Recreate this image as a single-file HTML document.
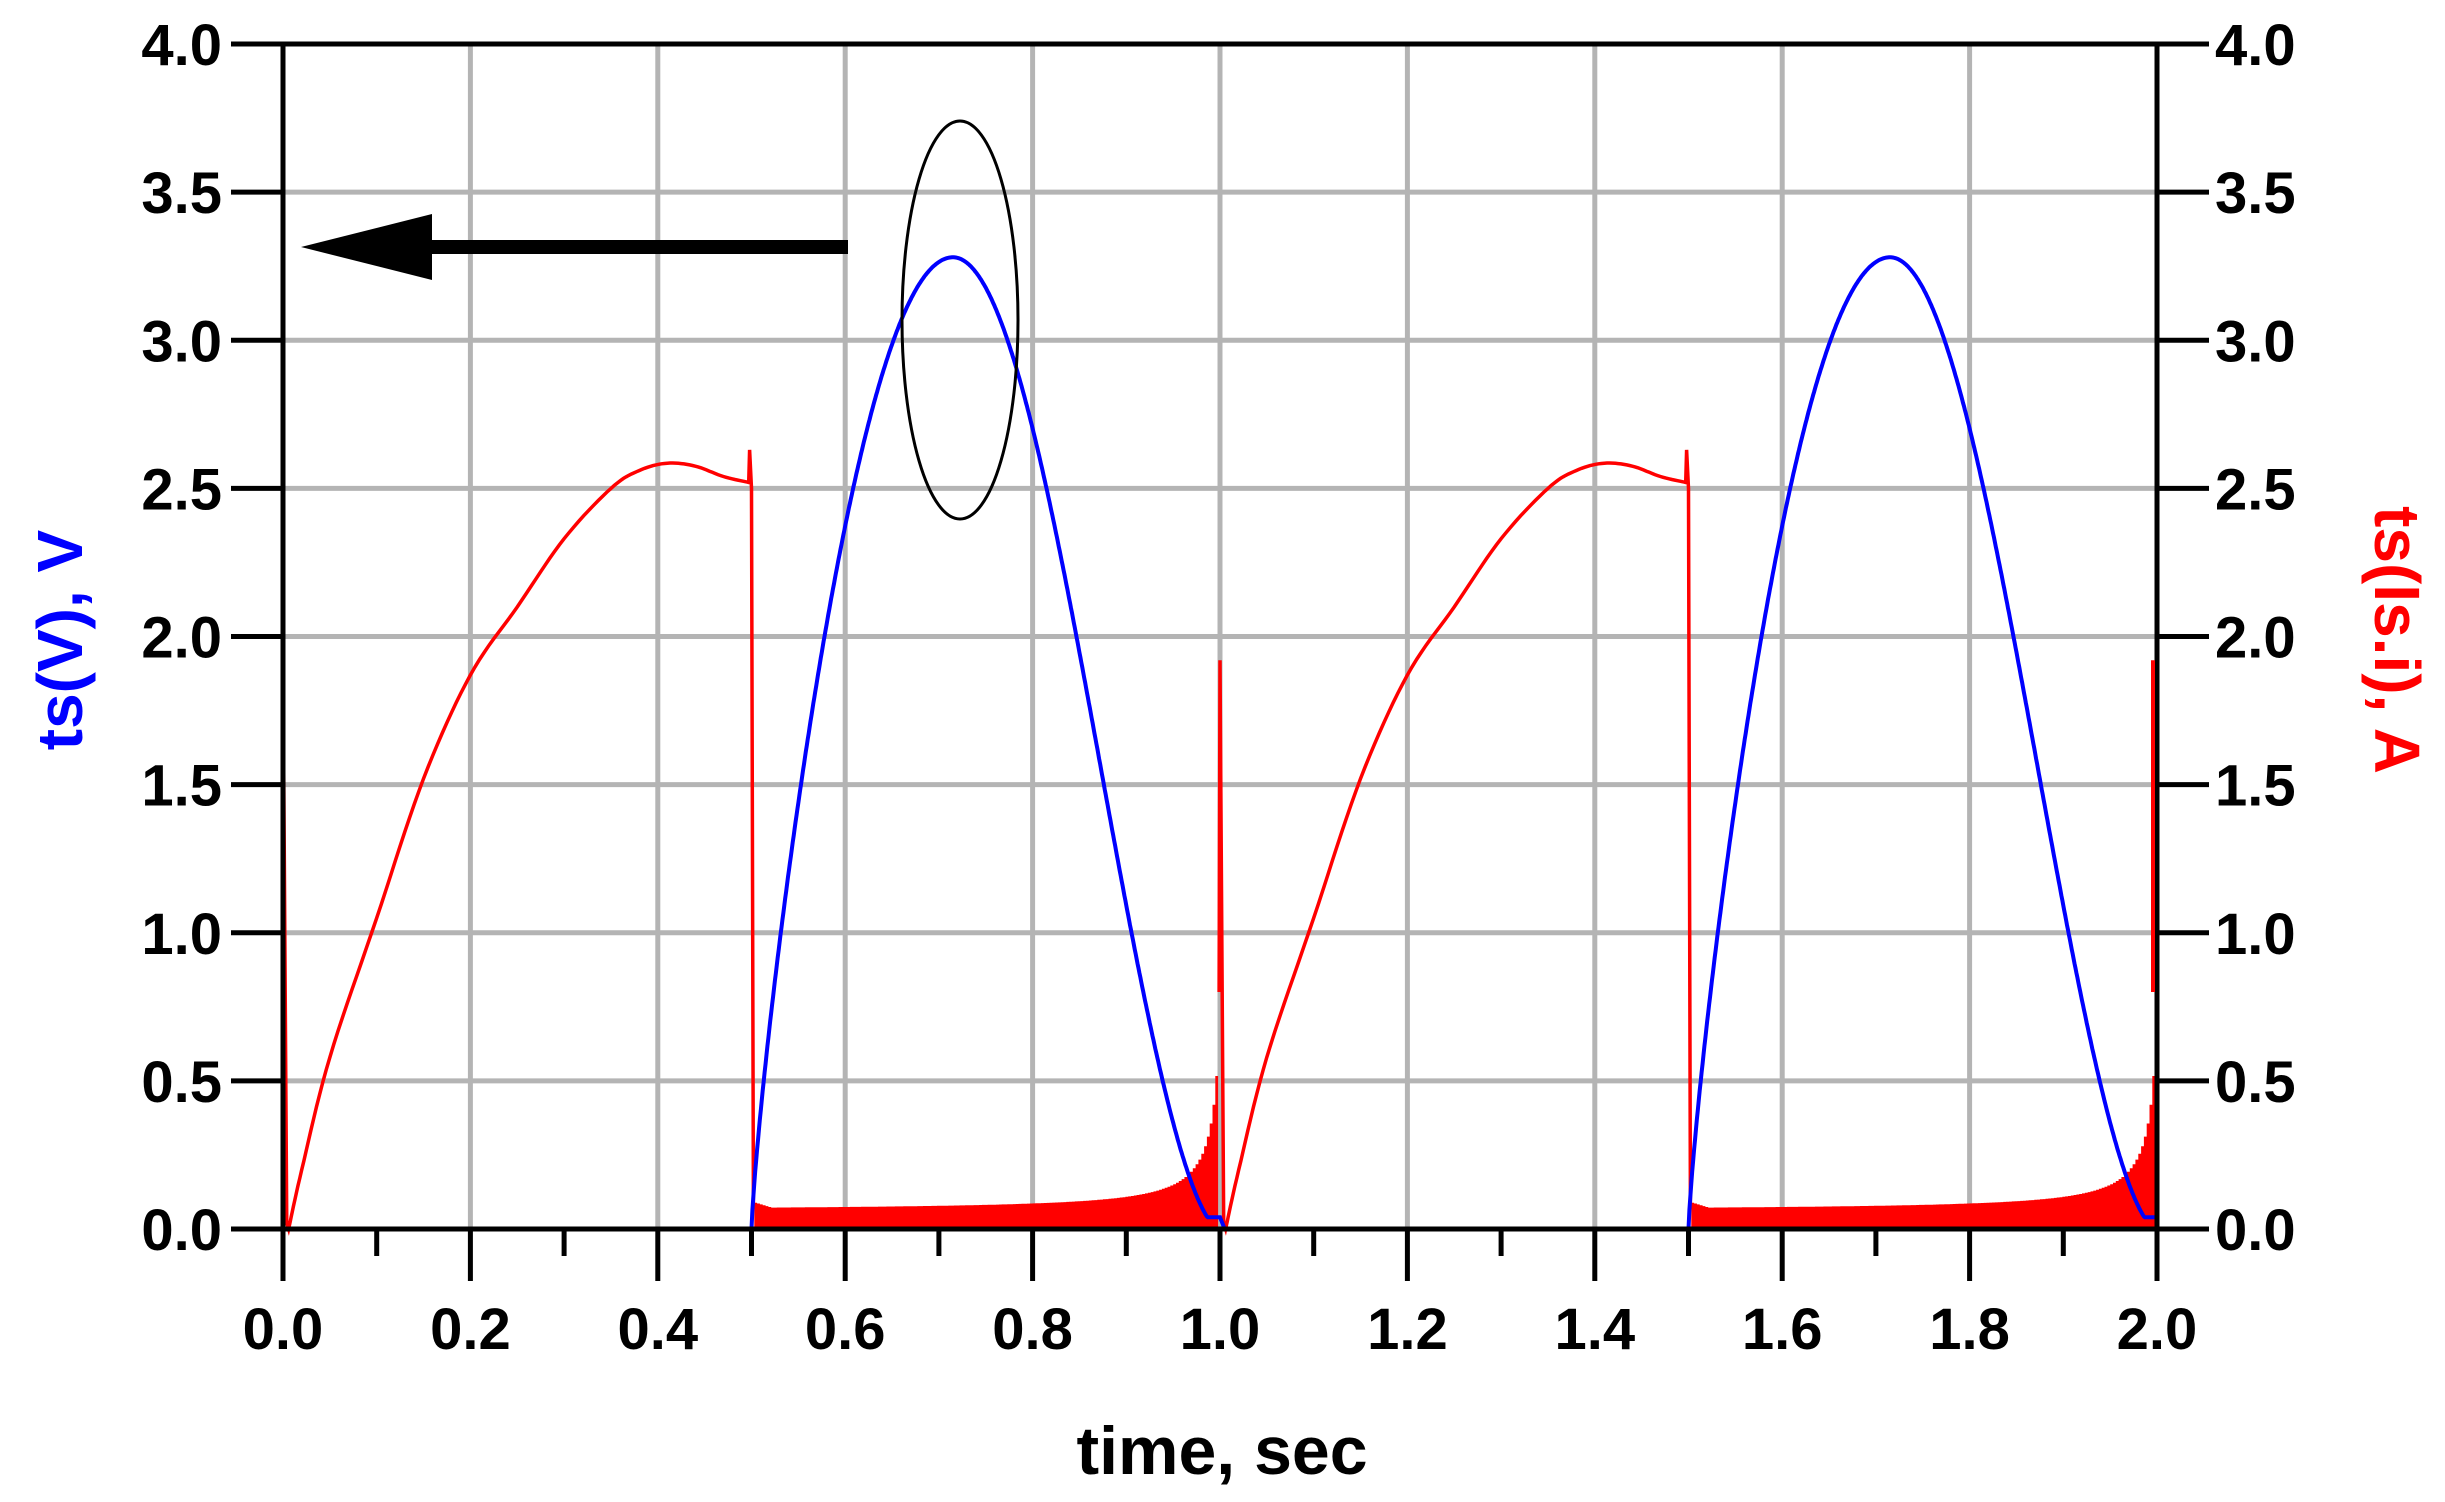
<!DOCTYPE html>
<html><head><meta charset="utf-8"><style>
body{margin:0;background:#fff}
svg{display:block}
text{font-family:"Liberation Sans",Arial,sans-serif;font-weight:bold}
</style></head><body>
<svg id="s" width="2445" height="1502" viewBox="0 0 2445 1502" xmlns="http://www.w3.org/2000/svg">
<g id="grid" stroke="#b4b4b4" stroke-width="5"></g>
<path id="redfill" fill="#ff0000" stroke="none"/>
<path id="red" fill="none" stroke="#ff0000" stroke-width="3.5"/>
<path id="blue" fill="none" stroke="#0000ff" stroke-width="4"/>
<g id="axes" stroke="#000" stroke-width="5"></g>
<path id="spike" fill="none" stroke="#ff0000" stroke-width="4"/>
<g id="labels" font-size="58" fill="#000"></g>
<path d="M848,247 L432,247" stroke="#000" stroke-width="14"/>
<path d="M301,247 L432,214 L432,280 Z" fill="#000"/>
<ellipse cx="960" cy="320" rx="58" ry="199" fill="none" stroke="#000" stroke-width="3"/>
<text x="1222" y="1474" font-size="68" text-anchor="middle">time, sec</text>
<text transform="translate(82,640) rotate(-90)" font-size="64" text-anchor="middle" fill="#0000ff">ts(V), V</text>
<text transform="translate(2375,640) rotate(90)" font-size="64" text-anchor="middle" fill="#ff0000">ts(Is.i), A</text>
</svg>
<script>
var X=function(t){return 283+t*937},Y=function(v){return 1229-v*296.25};
var ns="http://www.w3.org/2000/svg";
function ln(g,x1,y1,x2,y2){var l=document.createElementNS(ns,"line");l.setAttribute("x1",x1);l.setAttribute("y1",y1);l.setAttribute("x2",x2);l.setAttribute("y2",y2);document.getElementById(g).appendChild(l);}
function tx(x,y,s,a){var t=document.createElementNS(ns,"text");t.setAttribute("x",x);t.setAttribute("y",y);t.setAttribute("text-anchor",a);t.textContent=s;document.getElementById("labels").appendChild(t);}
for(var i=1;i<10;i++){ln("grid",X(i*0.2),44,X(i*0.2),1229);}
for(var j=1;j<8;j++){ln("grid",283,Y(j*0.5),2157,Y(j*0.5));}
ln("axes",231,44,2209,44);ln("axes",283,44,283,1281);ln("axes",2157,44,2157,1281);ln("axes",283,1229,2157,1229);
for(var j=0;j<=8;j++){var y=Y(j*0.5);ln("axes",231,y,283,y);ln("axes",2157,y,2209,y);
 var s=(j*0.5).toFixed(1);tx(222,y+21,s,"end");tx(2215,y+21,s,"start");}
for(var i=0;i<=20;i++){var x=X(i*0.1);ln("axes",x,1229,x,i%2?1256:1281);
 if(i%2==0)tx(x,1349,(i*0.1).toFixed(1),"middle");}
function V(s){var v=0;
 if(s>0.5&&s<0.715){v=3.28*Math.pow(Math.sin(Math.PI/2*(s-0.5)/0.215),0.8);}
 else if(s>=0.715&&s<=1){var u=(s-0.715)/0.285;var c=Math.cos(Math.PI/2*Math.min(u,0.99));v=3.28*Math.pow(c,1.7);if(v<0.04)v=0.04;}
 return v;}
var b="M"+X(0)+","+Y(0);
for(var c=0;c<2;c++){for(var k=500;k<=1000;k++){var s=k/1000;b+="L"+X(c+s).toFixed(1)+","+Y(V(s)).toFixed(1);}
 if(c==0)b+="L"+X(1.005).toFixed(1)+","+Y(0)+"L"+X(1.5)+","+Y(0);}
document.getElementById("blue").setAttribute("d",b);
var P=[[0.006,0],[0.02,0.2],[0.05,0.58],[0.1,1.05],[0.15,1.52],[0.2,1.87],[0.25,2.1],[0.3,2.33],[0.35,2.5],[0.38,2.56],[0.41,2.585],[0.44,2.575],[0.47,2.54],[0.497,2.52]];
function cr(){var out=[];for(var i=0;i<P.length-1;i++){var p0=P[Math.max(i-1,0)],p1=P[i],p2=P[i+1],p3=P[Math.min(i+2,P.length-1)];
 for(var k=0;k<10;k++){var t=k/10,t2=t*t,t3=t2*t;var f=function(a,b,c,d){return 0.5*(2*b+(-a+c)*t+(2*a-5*b+4*c-d)*t2+(-a+3*b-3*c+d)*t3)};out.push([f(p0[0],p1[0],p2[0],p3[0]),f(p0[1],p1[1],p2[1],p3[1])]);}}
 out.push(P[P.length-1]);return out;}
var R=cr();
function env(s){return 0.062+0.005/(0.5-s+0.006)+(s<0.02?0.02*(1-s/0.02):0);}
var r="",f="";
for(var c=0;c<2;c++){
 var o=c;
 if(c==0)r+="M"+X(0)+","+Y(1.92)+"L"+X(0.004)+","+Y(0.02);
 R.forEach(function(p){r+="L"+X(p[0]+o).toFixed(1)+","+Y(p[1]).toFixed(1);});
 r+="L"+X(o+0.498).toFixed(1)+","+Y(2.63)+"L"+X(o+0.5).toFixed(1)+","+Y(2.5)+"L"+X(o+0.502).toFixed(1)+","+Y(0.08);
 f+="M"+X(o+0.503).toFixed(1)+","+Y(0);
 for(var s=0.003;s<0.497;s+=0.003){var e=env(s);var yy=Y(e).toFixed(1);f+="L"+X(o+0.5+s).toFixed(1)+","+yy+"L"+X(o+0.5+s+0.003).toFixed(1)+","+yy;}
 f+="L"+X(o+0.998).toFixed(1)+","+Y(0.85)+"L"+X(o+0.998).toFixed(1)+","+Y(0)+"Z";
 if(c==0)r+="M"+X(0.999).toFixed(1)+","+Y(0.8)+"L"+X(1).toFixed(1)+","+Y(1.92)+"L"+X(1.004).toFixed(1)+","+Y(0.02)+"L"+X(1.006).toFixed(1)+","+Y(0);
}
document.getElementById("red").setAttribute("d",r);
document.getElementById("redfill").setAttribute("d",f);
document.getElementById("spike").setAttribute("d","M"+(X(2)-4)+","+Y(0.8)+"L"+(X(2)-4)+","+Y(1.92));
</script>
</body></html>
